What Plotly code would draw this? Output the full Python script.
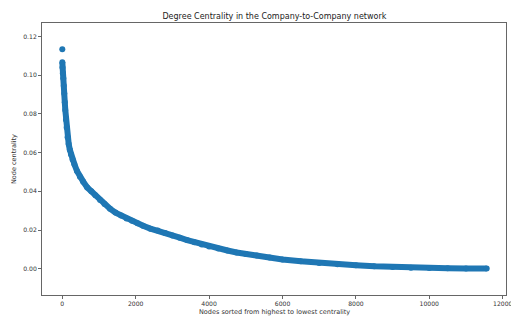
import plotly.graph_objects as go

# Node rank (sorted from highest to lowest centrality) and the centrality
node_rank = [0, 1, 5, 15, 27, 40, 54, 68, 82, 100, 120, 145, 174, 205, 237, 280, 330, 400,
             480, 570, 680, 790, 900, 1030, 1150, 1300, 1450, 1600, 1750, 1900, 2050, 2200,
             2400, 2600, 2800, 3000, 3200, 3400, 3600, 3800, 4000, 4250, 4500, 4750, 5000,
             5300, 5650, 6000, 6500, 7000, 7500, 8000, 8500, 9000, 9500, 10000, 10500,
             11000, 11564]
centrality = [0.1134, 0.1067, 0.104, 0.101, 0.0985, 0.0945, 0.0905, 0.086, 0.082, 0.077,
              0.073, 0.068, 0.0645, 0.0615, 0.059, 0.0565, 0.054, 0.0505, 0.0475, 0.045,
              0.042, 0.040, 0.038, 0.0355, 0.0335, 0.031, 0.029, 0.0275, 0.026, 0.0248,
              0.0235, 0.0222, 0.0207, 0.0197, 0.0185, 0.0172, 0.016, 0.0148, 0.0137, 0.0125,
              0.0115, 0.0104, 0.0094, 0.0084, 0.0076, 0.0068, 0.0058, 0.0048, 0.0038, 0.0029,
              0.0023, 0.0018, 0.0013, 0.0009, 0.0005, 0.0003, 0.0002, 0.0001, 0.0001]

x_ticks = [0, 2000, 4000, 6000, 8000, 10000, 12000]
y_ticks = [0.00, 0.02, 0.04, 0.06, 0.08, 0.10, 0.12]

title_text = "Degree Centrality in the Company-to-Company network"
x_title = "Nodes sorted from highest to lowest centrality"
y_title = "Node centrality"

COLOR = "#1f77b4"
FONT = "DejaVu Sans"

fig = go.Figure()
fig.add_trace(go.Scatter(x=node_rank[:1], y=centrality[:1], mode="markers",
                         marker=dict(color=COLOR, size=6), showlegend=False))
fig.add_trace(go.Scatter(x=node_rank[1:], y=centrality[1:], mode="lines+markers",
                         line=dict(color=COLOR, width=6),
                         marker=dict(color=COLOR, size=6), showlegend=False))

axis_common = dict(showgrid=False, zeroline=False, showline=True, linecolor="#666",
                   linewidth=1, mirror=True, ticks="outside", ticklen=3, tickwidth=1,
                   tickcolor="#666", automargin=False, ticklabeloverflow="allow",
                   tickfont=dict(family=FONT, size=6.1, color="#333"))

fig.update_xaxes(range=[-553, 12090], tickvals=x_ticks,
                 ticktext=[str(v) for v in x_ticks], **axis_common)
fig.update_yaxes(range=[-0.0136, 0.127], tickvals=y_ticks,
                 ticktext=[f"{v:.2f}" for v in y_ticks], **axis_common)

fig.update_layout(
    width=511, height=316,
    margin=dict(l=42, r=5, t=23, b=21, autoexpand=False),
    paper_bgcolor="white", plot_bgcolor="white",
    title=dict(text=title_text, x=0.537, xanchor="center", y=0.95, yanchor="middle",
               font=dict(family=FONT, size=8, color="#222")),
    annotations=[
        dict(text=x_title, xref="paper", yref="paper", x=0.5, y=-0.0625,
             xanchor="center", yanchor="middle", showarrow=False,
             font=dict(family=FONT, size=6.5, color="#333")),
        dict(text=y_title, xref="paper", yref="paper", x=-0.0603, y=0.5,
             xanchor="center", yanchor="middle", showarrow=False, textangle=-90,
             font=dict(family=FONT, size=6.5, color="#333")),
    ],
)

fig.write_html("out.html", config={"displayModeBar": False, "staticPlot": True},
               post_script="document.body.style.margin='0';document.body.style.overflow='hidden';")
